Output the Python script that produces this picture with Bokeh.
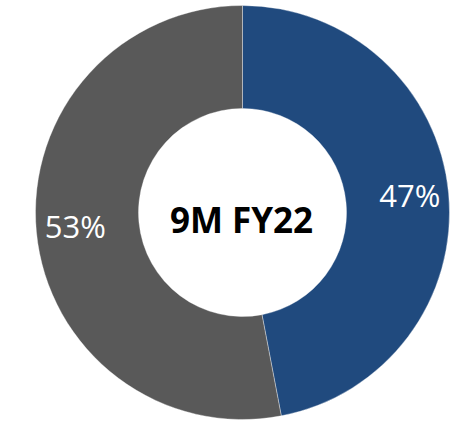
import math
from bokeh.plotting import figure
from bokeh.models import ColumnDataSource
from bokeh.core.properties import value
from bokeh.embed import file_html
from bokeh.resources import INLINE

# Data
categories = ["Segment A", "Segment B"]
shares = [47, 53]
labels = ["47%", "53%"]
colors = ["#204A7E", "#595959"]
center_title = "9M FY22"

# Geometry (pixel-equivalent data units)
W, H = 462, 422
cx, cy = 242, 422 - 212
r_out, r_in, r_lab = 207, 104, 168

total = sum(shares)
starts, ends, lx, ly = [], [], [], []
acc = 0.0
for s in shares:
    a0 = math.pi / 2 - 2 * math.pi * acc / total
    a1 = math.pi / 2 - 2 * math.pi * (acc + s) / total
    starts.append(a0)
    ends.append(a1)
    mid = (a0 + a1) / 2
    lx.append(cx + r_lab * math.cos(mid))
    ly.append(cy + r_lab * math.sin(mid))
    acc += s

src = ColumnDataSource(dict(cat=categories, start=starts, end=ends,
                            color=colors, lab=labels, lx=lx, ly=ly))

p = figure(width=W, height=H, x_range=(0, W), y_range=(0, H),
           output_backend="svg", toolbar_location=None, min_border=0)
p.axis.visible = False
p.grid.visible = False
p.outline_line_color = None
p.background_fill_color = "white"

p.annular_wedge(x=cx, y=cy, inner_radius=r_in, outer_radius=r_out,
                start_angle="start", end_angle="end", direction="clock",
                fill_color="color", line_color="white", line_width=0.6,
                line_alpha=0.6, source=src)

p.text(x="lx", y="ly", text="lab", source=src, text_color="white",
       text_font=value("Open Sans"), text_font_size="31px",
       text_align="center", text_baseline="middle", y_offset=-2)

p.text(x=[cx - 1], y=[cy - 7], text=[center_title], text_color="black",
       text_font=value("Open Sans"), text_font_style="bold",
       text_font_size="35px", text_align="center", text_baseline="middle")

open("out.html", "w").write(file_html(p, INLINE))
